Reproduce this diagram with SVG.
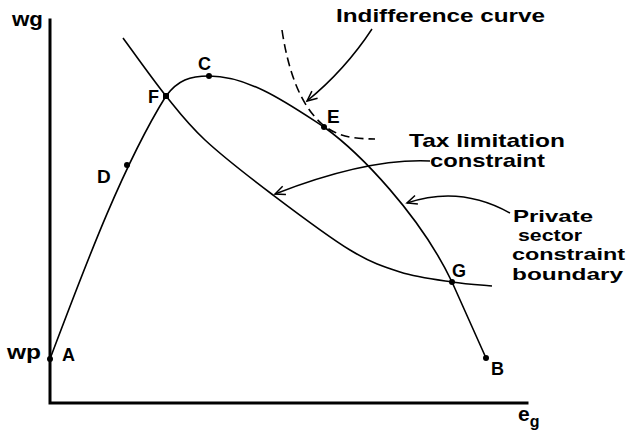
<svg xmlns="http://www.w3.org/2000/svg" width="630" height="435" viewBox="0 0 630 435">
<defs>
<style>
.ax{stroke:#000;stroke-width:3;fill:none;stroke-linecap:square}
.cv{stroke:#000;stroke-width:1.6;fill:none}
.ds{stroke:#000;stroke-width:1.6;fill:none;stroke-dasharray:9 5}
.ar{stroke:#000;stroke-width:1.5;fill:none}
.pt{fill:#000}
text{font-family:"Liberation Sans","DejaVu Sans",Arial,sans-serif;font-weight:bold;fill:#000}
.lt{font-size:18px}
.lb{font-size:19px}
.ps{font-size:17px}
.ax-l{font-size:21px}
</style>
<marker id="arr" viewBox="-12 -6 14 12" refX="0" refY="0" markerWidth="14" markerHeight="12" markerUnits="userSpaceOnUse" orient="auto">
<path d="M-10,-4.5 L0,0 L-10,4.5" fill="none" stroke="#000" stroke-width="1.5"/>
</marker>
</defs>
<rect width="630" height="435" fill="#fff"/>

<g id="axes">
<path class="ax" d="M50,20 L50,403 L527,403"/>
<text class="ax-l" x="12" y="26" textLength="31" lengthAdjust="spacingAndGlyphs">wg</text>
<text class="ax-l" x="7" y="359" textLength="34" lengthAdjust="spacingAndGlyphs">wp</text>
<text class="ax-l" x="518" y="421">e<tspan font-size="16" dy="6">g</tspan></text>
</g>

<g id="connectors">
<path id="private-sector-curve" class="cv" d="M50,359 C80,280 120,170 166,96 C178,80 190,76 209,76 C250,76 290,105 324,127 C360,153 420,215 452,282 L486,358"/>
<path id="tax-limitation-curve" class="cv" d="M123,38 C130.2,47.7 152.3,79 166,96 C179.7,113 187.2,123.5 205,140 C222.8,156.5 248.8,176.7 273,195 C297.2,213.3 328.8,237.2 350,250 C371.2,262.8 383,266.7 400,272 C417,277.3 436.7,279.7 452,282 C467.3,284.3 485.3,285.3 492,286"/>
<path id="indifference-curve" class="ds" d="M282,30 C288,70 300,105 322,124 C335,135 350,139 375,139"/>
<path class="ar" d="M372,29 Q345,70 307,101" marker-end="url(#arr)"/>
<path class="ar" d="M430,161 Q367,158 275,194" marker-end="url(#arr)"/>
<path class="ar" d="M510,213 Q460,185 407,203" marker-end="url(#arr)"/>
</g>

<g id="A"><circle class="pt" cx="50" cy="359" r="3"/><text class="lt" x="62" y="361">A</text></g>
<g id="B"><circle class="pt" cx="486" cy="358" r="3"/><text class="lt" x="491" y="375">B</text></g>
<g id="C"><circle class="pt" cx="209" cy="76" r="3"/><text class="lt" x="198" y="70">C</text></g>
<g id="D"><circle class="pt" cx="127" cy="165" r="3"/><text class="lb" x="97" y="183">D</text></g>
<g id="E"><circle class="pt" cx="324" cy="127" r="3"/><text class="lb" x="327" y="123">E</text></g>
<g id="F"><rect class="pt" x="163" y="93" width="6" height="6"/><text class="lt" x="148" y="103">F</text></g>
<g id="G"><circle class="pt" cx="452" cy="282" r="3"/><text class="lt" x="452" y="277">G</text></g>

<g id="labels">
<text class="lb" x="336" y="22" textLength="209" lengthAdjust="spacingAndGlyphs">Indifference curve</text>
<text class="lb" x="409" y="147" textLength="156" lengthAdjust="spacingAndGlyphs">Tax limitation</text>
<text class="lb" x="430" y="167" textLength="115" lengthAdjust="spacingAndGlyphs">constraint</text>
<text class="ps" x="513" y="222" textLength="80" lengthAdjust="spacingAndGlyphs">Private</text>
<text class="ps" x="518" y="241" textLength="64" lengthAdjust="spacingAndGlyphs">sector</text>
<text class="ps" x="512" y="260" textLength="113" lengthAdjust="spacingAndGlyphs">constraint</text>
<text class="ps" x="512" y="280" textLength="111" lengthAdjust="spacingAndGlyphs">boundary</text>
</g>
</svg>
